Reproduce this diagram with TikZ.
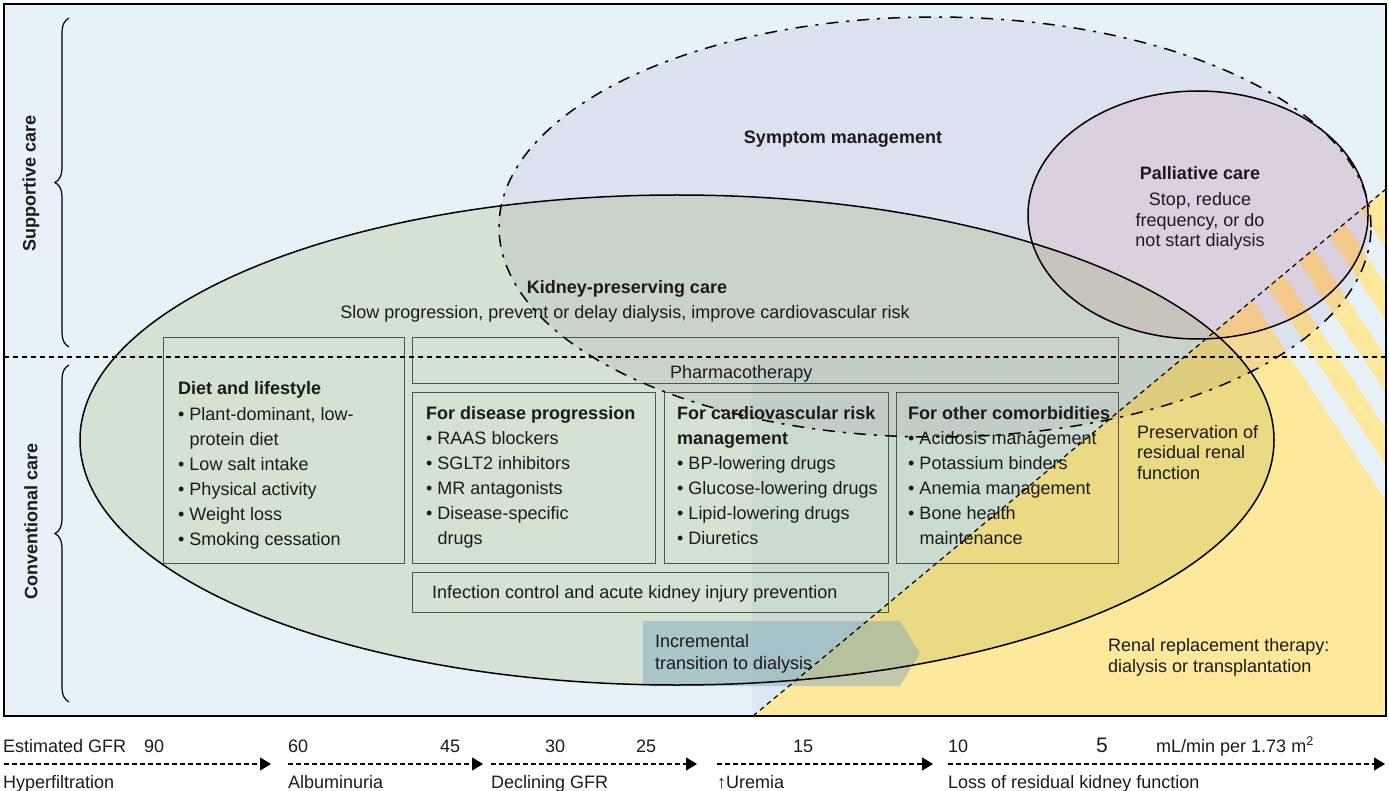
\documentclass[tikz,border=0pt]{standalone}
\usepackage{fontspec}
\setmainfont{Liberation Sans}
\usetikzlibrary{decorations.pathreplacing,arrows.meta}
\definecolor{bgblue}{RGB}{230,241,248}
\definecolor{bandc}{RGB}{245,247,252}
\definecolor{yel}{RGB}{253,232,155}
\definecolor{grn}{RGB}{235,240,216}
\definecolor{lav}{RGB}{245,239,245}
\definecolor{mauve}{RGB}{254,237,238}
\definecolor{arrowc}{RGB}{120,165,190}
\definecolor{boxc}{RGB}{74,88,74}
\definecolor{txt}{RGB}{28,26,26}
\tikzset{
  lbl/.style={inner sep=0pt, text=txt, font=\fontsize{18}{22}\selectfont},
  lw/.style={lbl, anchor=base west},
  lc/.style={lbl, anchor=base},
  lwb/.style={lw, font=\fontsize{18}{22}\selectfont\bfseries},
  lcb/.style={lc, font=\fontsize{18}{22}\selectfont\bfseries},
  boxst/.style={draw=boxc, line width=1.4pt, inner sep=0pt, anchor=north west},
  ddash/.style={line width=1.5pt, dash pattern=on 12pt off 8pt on 3pt off 8pt},
  sdash/.style={line width=1.2pt, dash pattern=on 5pt off 4pt},
  axarrow/.style={line width=1.1pt, dash pattern=on 5pt off 3pt, -{Triangle[length=11pt,width=13pt]}},
  bracest/.style={line width=1.2pt, decorate, decoration={brace, amplitude=14pt}},
}
\begin{document}
\begin{tikzpicture}[x=1pt,y=-1pt]
\useasboundingbox (0,0) rectangle (1389,791);
% background
\fill[bgblue] (4,4) rectangle (1386,716);
\begin{scope}[blend mode=multiply]
  \fill[bandc] (752,357) rectangle (1386,716);
\end{scope}
% yellow triangle with stripes
\begin{scope}
  \clip (753,716) -- (1386,716) -- (1386,189) -- cycle;
  \fill[yel] (753,716) -- (1386,716) -- (1386,189) -- cycle;
  \foreach \xo in {1290,1338,1386,1434}
    \fill[bgblue] ({\xo-257/1.5},100) -- ({\xo+24-257/1.5},100) -- ({\xo+24+263/1.5},620) -- ({\xo+263/1.5},620) -- cycle;
\end{scope}
% translucent areas
\begin{scope}[blend mode=multiply]
  \fill[grn] (677,440) ellipse [x radius=597pt, y radius=245pt];
  \fill[lav] (935,227) ellipse [x radius=436pt, y radius=210pt];
  \fill[mauve] (1198,215) ellipse [x radius=170pt, y radius=124pt];
\end{scope}
% incremental arrow
\fill[arrowc, fill opacity=0.45] (643,621) -- (900,621) -- (920,653.5) -- (900,686) -- (643,686) -- cycle;
% outlines of ellipses
\draw[line width=1.5pt] (677,440) ellipse [x radius=597pt, y radius=245pt];
\draw[line width=1.5pt] (1198,215) ellipse [x radius=170pt, y radius=124pt];
% boxes
\node[boxst, minimum width=241pt, minimum height=226pt] (diet) at (163,337) {};
\node[boxst, minimum width=706pt, minimum height=46pt] (pharma) at (412,337) {};
\node[boxst, minimum width=243pt, minimum height=171pt] (disease) at (412,392) {};
\node[boxst, minimum width=224pt, minimum height=171pt] (cardio) at (664,392) {};
\node[boxst, minimum width=222pt, minimum height=171pt] (other) at (896,392) {};
\node[boxst, minimum width=476pt, minimum height=40pt] (infect) at (412,572) {};
% box texts
\foreach \t [count=\i] in {{\textbf{Diet and lifestyle}},{• Plant-dominant, low-},{\phantom{• }protein diet},{• Low salt intake},{• Physical activity},{• Weight loss},{• Smoking cessation}}
  \node[lw] (dl\i) at (178,{395+25*(\i-1)}) {\t};
\foreach \t [count=\i] in {{\textbf{For disease progression}},{• RAAS blockers},{• SGLT2 inhibitors},{• MR antagonists},{• Disease-specific},{\phantom{• }drugs}}
  \node[lw] (dp\i) at (426,{419.5+25*(\i-1)}) {\t};
\foreach \t [count=\i] in {{\textbf{For cardiovascular risk}},{\textbf{management}},{• BP-lowering drugs},{• Glucose-lowering drugs},{• Lipid-lowering drugs},{• Diuretics}}
  \node[lw] (cv\i) at (677,{419.5+25*(\i-1)}) {\t};
\foreach \t [count=\i] in {{\textbf{For other comorbidities}},{• Acidosis management},{• Potassium binders},{• Anemia management},{• Bone health},{\phantom{• }maintenance}}
  \node[lw] (oc\i) at (908,{419.5+25*(\i-1)}) {\t};
\node[lw] (pharmatxt) at (670,378) {Pharmacotherapy};
\node[lw] (infecttxt) at (432,598.5) {Infection control and acute kidney injury prevention};
% area labels
\node[lcb] (kpc) at (627,293.5) {Kidney-preserving care};
\node[lc] (kpcsub) at (625,319) {Slow progression, prevent or delay dialysis, improve cardiovascular risk};
\node[lcb] (symp) at (843,143.5) {Symptom management};
\node[lcb] (pall) at (1200,180) {Palliative care};
\node[lc] (pall1) at (1200,205.5) {Stop, reduce};
\node[lc] (pall2) at (1200,226.5) {frequency, or do};
\node[lc] (pall3) at (1200,247) {not start dialysis};
\node[lw] (pres1) at (1137,438) {Preservation of};
\node[lw] (pres2) at (1137,458.5) {residual renal};
\node[lw] (pres3) at (1137,479.5) {function};
\node[lw] (rrt1) at (1108,651.5) {Renal replacement therapy:};
\node[lw] (rrt2) at (1108,672) {dialysis or transplantation};
\node[lw] (inc1) at (655,647.5) {Incremental};
\node[lw] (inc2) at (655,669.5) {transition to dialysis};
% side labels and braces
\node[lbl, font=\fontsize{18}{22}\selectfont\bfseries, rotate=90] (supp) at (31,183) {Supportive care};
\node[lbl, font=\fontsize{18}{22}\selectfont\bfseries, rotate=90] (conv) at (31,521) {Conventional care};
\coordinate (b1s) at (69,347);
\coordinate (b1e) at (69,18);
\coordinate (b2s) at (69,702);
\coordinate (b2e) at (69,365);
\draw[bracest] (b1s) -- (b1e);
\draw[bracest] (b2s) -- (b2e);
% dash-dot ellipse outline and dashed lines
\draw[ddash] (935,227) ellipse [x radius=436pt, y radius=210pt];
\coordinate (hl) at (4,357);
\coordinate (hr) at (1386,357);
\draw[sdash] (hl) -- (hr);
\coordinate (dgA) at (753,716);
\coordinate (dgB) at (1386,189);
\draw[sdash] (dgA) -- (dgB);
% frame
\draw[line width=1.5pt] (4,4) rectangle (1386,716);
% GFR axis
\node[lw] (egfr) at (3,752) {Estimated GFR};
\node[lw] (g90) at (144,752) {90};
\node[lw] (g60) at (288,752) {60};
\node[lw] (g45) at (440,752) {45};
\node[lw] (g30) at (545,752) {30};
\node[lw] (g25) at (636,752) {25};
\node[lw] (g15) at (793,752) {15};
\node[lw] (g10) at (948,752) {10};
\node[lw, font=\fontsize{21}{24}\selectfont] (g5) at (1096,752) {5};
\node[lw] (unit) at (1156,752) {mL/min per 1.73 m\textsuperscript{2}};
\coordinate (a1s) at (4,764);   \coordinate (a1e) at (271,764);
\coordinate (a2s) at (288,764); \coordinate (a2e) at (483,764);
\coordinate (a3s) at (491,764); \coordinate (a3e) at (697,764);
\coordinate (a4s) at (717,764); \coordinate (a4e) at (933,764);
\coordinate (a5s) at (948,764); \coordinate (a5e) at (1385,764);
\draw[axarrow] (a1s) -- (a1e);
\draw[axarrow] (a2s) -- (a2e);
\draw[axarrow] (a3s) -- (a3e);
\draw[axarrow] (a4s) -- (a4e);
\draw[axarrow] (a5s) -- (a5e);
\node[lw] (st1) at (3,788.5) {Hyperfiltration};
\node[lw] (st2) at (288,788.5) {Albuminuria};
\node[lw] (st3) at (491,788.5) {Declining GFR};
\node[lw] (st4) at (717,788.5) {↑Uremia};
\node[lw] (st5) at (948,788.5) {Loss of residual kidney function};
\end{tikzpicture}
\end{document}
